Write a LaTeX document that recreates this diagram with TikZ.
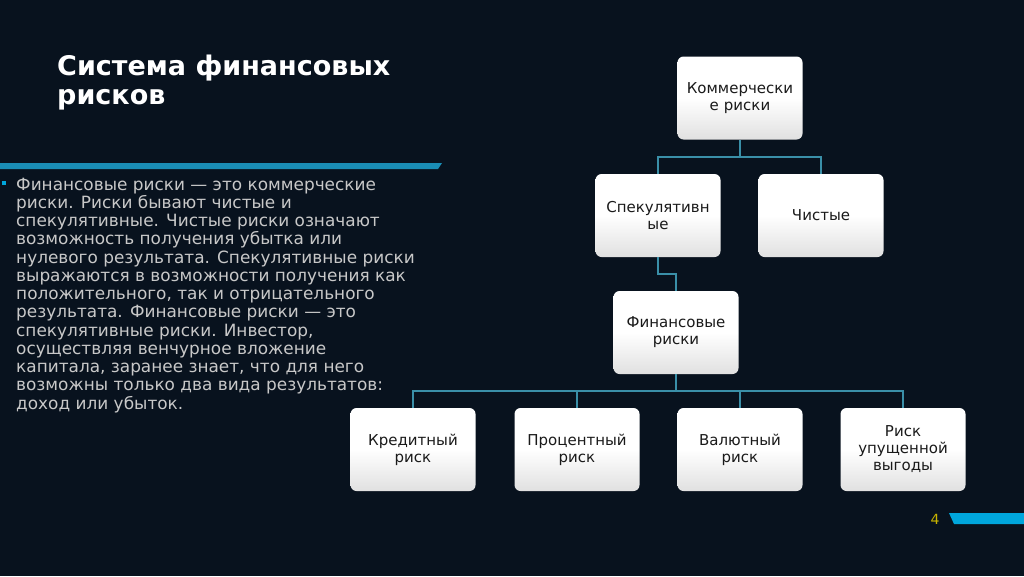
\documentclass[tikz,border=0pt]{standalone}
\usepackage{fontspec}
\setmainfont{DejaVu Sans}
\usetikzlibrary{positioning}
\definecolor{bg}{HTML}{08121E}
\definecolor{barblue}{HTML}{1A8DB5}
\definecolor{barblue2}{HTML}{00A6DC}
\definecolor{conn}{HTML}{3A8FA8}
\definecolor{bodytext}{HTML}{C8C8C8}
\definecolor{pagenum}{HTML}{C8B400}
\definecolor{boxtext}{HTML}{1A1A1A}
\tikzset{
  rbox/.style={rectangle, rounded corners=6pt, minimum width=125pt, minimum height=83pt,
    inner sep=2pt, top color=white, bottom color=black!12, middle color=white,
    text=boxtext, font=\fontsize{15}{17}\selectfont, align=center, text width=121pt},
  conline/.style={draw=conn, line width=1.3pt},
  bodyline/.style={anchor=base west, inner sep=0pt, text=bodytext, font=\fontsize{16.9}{18}\selectfont},
  titleline/.style={anchor=base west, inner sep=0pt, text=white, font=\fontsize{27}{30}\bfseries}
}
\begin{document}
\begin{tikzpicture}[x=1pt,y=-1pt]
\useasboundingbox (0,0) rectangle (1024,576);
\fill[bg] (0,0) rectangle (1024,576);
% title
\node[titleline] (t1) at (57,75) {Система финансовых};
\node[titleline] (t2) at (57,104) {рисков};
% bars
\fill[barblue] (0,163) -- (442,163) -- (438,169) -- (0,169) -- cycle;
\fill[barblue2] (949,513) -- (1024,513) -- (1024,524) -- (954,524) -- cycle;
\node[inner sep=0pt, text=pagenum, font=\fontsize{14}{16}\selectfont] (pn) at (935,519) {4};
% bullet
\fill[barblue2] (2,181) rectangle (6,185);
% body text
\node[bodyline] (l1) at (16,190) {Финансовые риски — это коммерческие};
\node[bodyline] (l2) at (16,208.25) {риски. Риски бывают чистые и};
\node[bodyline] (l3) at (16,226.5) {спекулятивные. Чистые риски означают};
\node[bodyline] (l4) at (16,244.75) {возможность получения убытка или};
\node[bodyline] (l5) at (16,263) {нулевого результата. Спекулятивные риски};
\node[bodyline] (l6) at (16,281.25) {выражаются в возможности получения как};
\node[bodyline] (l7) at (16,299.5) {положительного, так и отрицательного};
\node[bodyline] (l8) at (16,317.75) {результата. Финансовые риски — это};
\node[bodyline] (l9) at (16,336) {спекулятивные риски. Инвестор,};
\node[bodyline] (l10) at (16,354.25) {осуществляя венчурное вложение};
\node[bodyline] (l11) at (16,372.5) {капитала, заранее знает, что для него};
\node[bodyline] (l12) at (16,390.75) {возможны только два вида результатов:};
\node[bodyline] (l13) at (16,409) {доход или убыток.};
% boxes
\node[rbox] (kom) at (740,98) {Коммерчески\\е риски};
\node[rbox] (spek) at (658,215.5) {Спекулятивн\\ые};
\node[rbox] (chist) at (821,215.5) {Чистые};
\node[rbox] (fin) at (676,332.5) {Финансовые\\риски};
\node[rbox] (kred) at (413,449.5) {Кредитный\\риск};
\node[rbox] (proc) at (577,449.5) {Процентный\\риск};
\node[rbox] (val) at (740,449.5) {Валютный\\риск};
\node[rbox] (up) at (903,449.5) {Риск\\упущенной\\выгоды};
% connectors
\coordinate (j1) at (740,157);
\draw[conline] (kom.south) -- (j1);
\draw[conline] (spek.north) |- (j1) -| (chist.north);
\coordinate (j2) at (658,274);
\draw[conline] (spek.south) -- (j2) -| (fin.north);
\coordinate (j3) at (676,391);
\draw[conline] (fin.south) -- (j3);
\draw[conline] (kred.north) |- (j3) -| (up.north);
\draw[conline] (proc.north) -- (proc.north |- j3);
\draw[conline] (val.north) -- (val.north |- j3);
\end{tikzpicture}
\end{document}
